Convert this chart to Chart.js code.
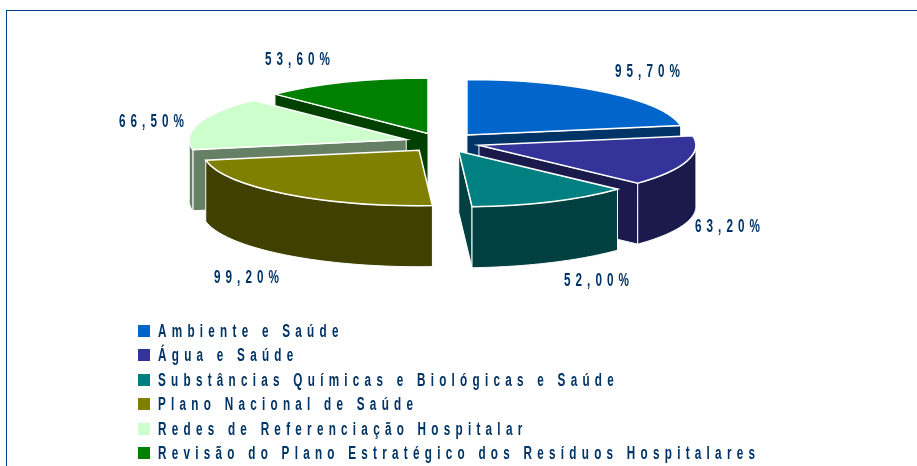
<!DOCTYPE html>
<html>
<head>
<meta charset="utf-8">
<style>
  body { margin: 0; background: #fff; }
  #wrap { position: relative; width: 917px; height: 466px; overflow: hidden; }
  #frame { position: absolute; left: 6px; top: 10px; right: -5px; bottom: -5px; border: 1.5px solid #003a80; }
  #stats { position: absolute; left: 0; top: 0; }
  #legend { position: absolute; left: 138px; top: 318.5px; font: bold 18px "Liberation Sans", sans-serif; color: #003366; letter-spacing: 8.1px; white-space: nowrap; }
  #legend div { height: 24.5px; line-height: 24.5px; }
  #legend i { display: inline-block; width: 12px; height: 12px; margin-right: 8px; vertical-align: 0; }
  #legend span { display: inline-block; transform: scaleX(0.65); transform-origin: left center; }
</style>
</head>
<body>
<div id="wrap">
  <div id="frame"></div>
  <canvas id="stats" width="917" height="466"></canvas>
  <div id="legend"></div>
</div>
<script src="https://cdn.jsdelivr.net/npm/chart.js@4/dist/chart.umd.min.js"></script>
<script>
const categories = [
    'Ambiente e Saúde',
    'Água e Saúde',
    'Substâncias Químicas e Biológicas e Saúde',
    'Plano Nacional de Saúde',
    'Redes de Referenciação Hospitalar',
    'Revisão do Plano Estratégico dos Resíduos Hospitalares'
];
const values = [95.7, 63.2, 52.0, 99.2, 66.5, 53.6];
const valueLabels = ['95,70%', '63,20%', '52,00%', '99,20%', '66,50%', '53,60%'];
const topColors = ['#0066cc', '#333399', '#008080', '#808000', '#ccffcc', '#008000'];
const wallColors = ['#003366', '#1a1a4d', '#004040', '#404000', '#668066', '#004000'];

// label centres, the pie itself comes from the library
const labelAt = [[650, 72], [730, 227], [599, 281], [249, 278], [154, 122], [300, 60]];

const squash = 0.256;
const depth = 61;
const explode = 38;
const backToFront = [5, 0, 4, 1, 3, 2];

function sliceGeometry(arc) {
    const mid = (arc.startAngle + arc.endAngle) / 2;
    return {
        cx: arc.x + Math.cos(mid) * explode,
        cy: arc.y + Math.sin(mid) * explode * squash,
        r: arc.outerRadius,
        a: arc.startAngle,
        b: arc.endAngle
    };
}

function rimPoint(s, angle, down) {
    return [s.cx + Math.cos(angle) * s.r, s.cy + Math.sin(angle) * s.r * squash + down];
}

function drawFace(ctx, points, color) {
    ctx.beginPath();
    points.forEach((p, i) => i ? ctx.lineTo(p[0], p[1]) : ctx.moveTo(p[0], p[1]));
    ctx.closePath();
    ctx.fillStyle = color;
    ctx.fill();
    ctx.stroke();
}

function drawWalls(ctx, s, color) {
    const apex = [s.cx, s.cy];
    const apexDown = [s.cx, s.cy + depth];
    ctx.strokeStyle = '#fff';
    ctx.lineWidth = 1;
    // cut faces, only the ones turned to the viewer
    if (Math.sin(s.a + Math.PI / 2) < 0) {
        drawFace(ctx, [apex, rimPoint(s, s.a, 0), rimPoint(s, s.a, depth), apexDown], color);
    }
    if (Math.sin(s.b + Math.PI / 2) > 0) {
        drawFace(ctx, [apex, rimPoint(s, s.b, 0), rimPoint(s, s.b, depth), apexDown], color);
    }
    // rim, visible part is the lower half of the ellipse
    const from = Math.max(s.a, 0);
    const to = Math.min(s.b, Math.PI);
    if (to > from) {
        const pts = [];
        for (let i = 0; i <= 60; i++) pts.push(rimPoint(s, from + (to - from) * i / 60, 0));
        for (let i = 60; i >= 0; i--) pts.push(rimPoint(s, from + (to - from) * i / 60, depth));
        drawFace(ctx, pts, color);
    }
}

const pie3d = {
    id: 'pie3d',
    beforeDatasetsDraw(chart) {
        const ctx = chart.ctx;
        const arcs = chart.getDatasetMeta(0).data;

        backToFront.forEach(i => drawWalls(ctx, sliceGeometry(arcs[i]), wallColors[i]));

        backToFront.forEach(i => {
            const s = sliceGeometry(arcs[i]);
            ctx.save();
            ctx.translate(s.cx, s.cy);
            ctx.scale(1, squash);
            ctx.translate(-arcs[i].x, -arcs[i].y);
            arcs[i].draw(ctx);
            ctx.restore();

            // outline in screen space so the squash does not thin it
            ctx.beginPath();
            ctx.moveTo(s.cx, s.cy);
            ctx.ellipse(s.cx, s.cy, s.r, s.r * squash, 0, s.a, s.b);
            ctx.closePath();
            ctx.strokeStyle = '#fff';
            ctx.lineWidth = 1.5;
            ctx.stroke();
        });

        ctx.font = 'bold 18px "Liberation Sans", sans-serif';
        ctx.letterSpacing = '7.8px';
        ctx.fillStyle = '#003366';
        ctx.textAlign = 'center';
        ctx.textBaseline = 'middle';
        valueLabels.forEach((t, i) => {
            ctx.save();
            ctx.translate(labelAt[i][0], labelAt[i][1]);
            ctx.scale(0.65, 1);
            ctx.fillText(t, 0, 0);
            ctx.restore();
        });
        ctx.letterSpacing = '0px';
        return false;
    }
};

new Chart(document.getElementById('stats').getContext('2d'), {
    type: 'pie',
    data: {
        labels: categories,
        datasets: [{
            data: values,
            backgroundColor: topColors,
            borderWidth: 0,
            radius: 217
        }]
    },
    options: {
        responsive: false,
        animation: false,
        layout: { padding: { right: 32, bottom: 181 } },
        plugins: {
            legend: { display: false },
            tooltip: { enabled: false }
        }
    },
    plugins: [pie3d]
});

document.getElementById('legend').innerHTML = categories
    .map((c, i) => `<div><i style="background:${topColors[i]}"></i><span>${c}</span></div>`)
    .join('');
</script>
</body>
</html>
